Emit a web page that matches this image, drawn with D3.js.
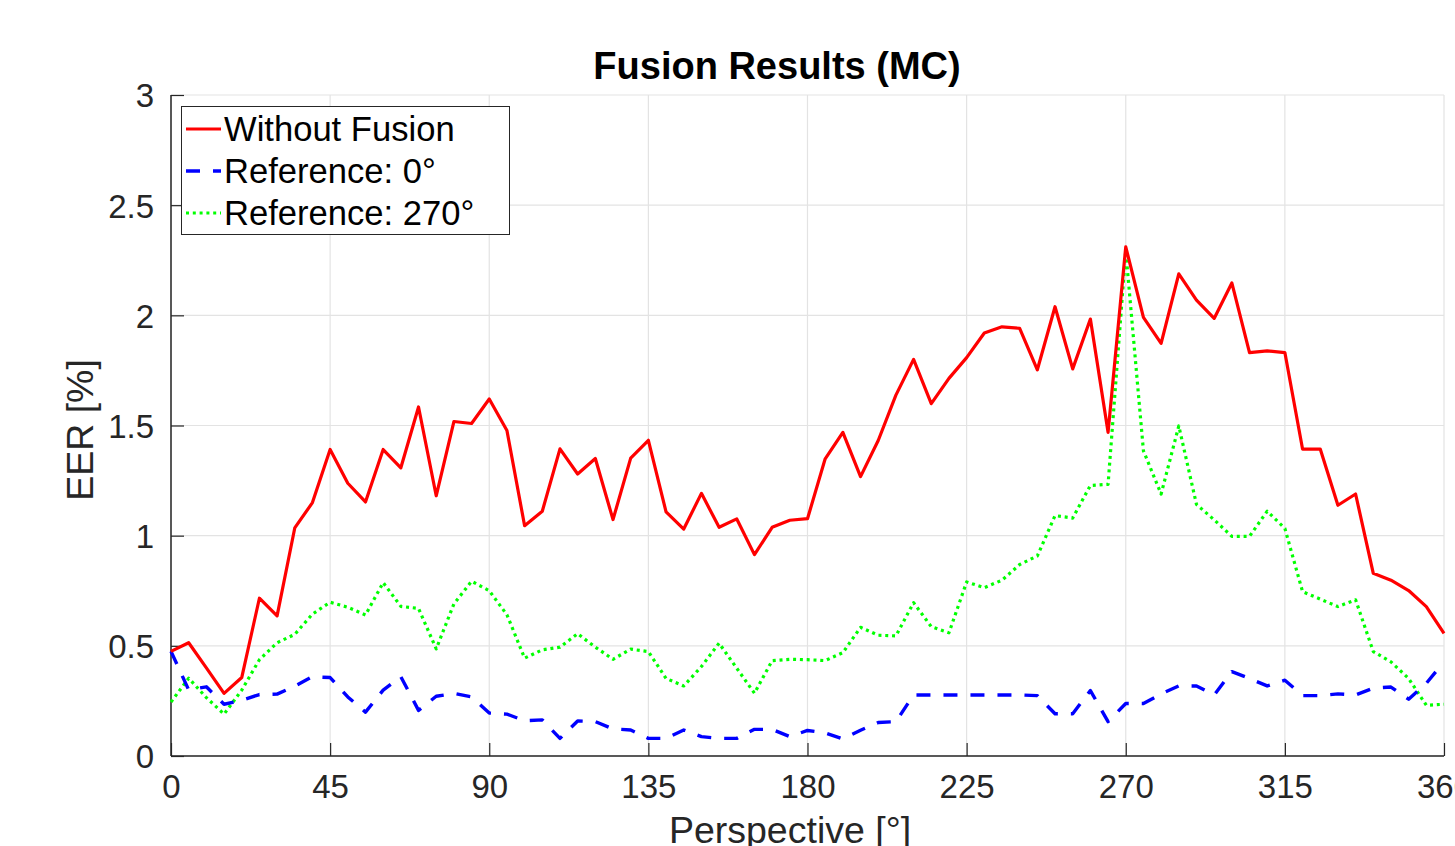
<!DOCTYPE html>
<html>
<head>
<meta charset="utf-8">
<script src="https://cdn.jsdelivr.net/npm/d3@7"></script>
<style>
  html, body { margin: 0; padding: 0; background: #fff; }
  svg { display: block; }
  text { font-family: "Liberation Sans", Arial, Helvetica, sans-serif; }
</style>
</head>
<body>
<svg id="chart" width="1455" height="846"></svg>
<script>
// ---- data ----
const angles = [0,5,10,15,20,25,30,35,40,45,50,55,60,65,70,75,80,85,90,95,100,105,110,115,120,125,130,135,140,145,150,155,160,165,170,175,180,185,190,195,200,205,210,215,220,225,230,235,240,245,250,255,260,265,270,275,280,285,290,295,300,305,310,315,320,325,330,335,340,345,350,355,360];

const withoutFusion = [0.475,0.514,0.400,0.284,0.356,0.716,0.636,1.035,1.150,1.391,1.238,1.153,1.391,1.308,1.584,1.181,1.518,1.509,1.620,
  1.477,1.045,1.111,1.394,1.280,1.350,1.073,1.352,1.433,1.108,1.030,1.192,1.038,1.076,0.914,1.038,1.070,1.077,
  1.349,1.469,1.268,1.432,1.638,1.800,1.599,1.714,1.808,1.920,1.948,1.941,1.753,2.039,1.757,1.983,1.469,2.311,
  1.991,1.873,2.188,2.069,1.986,2.147,1.831,1.839,1.831,1.393,1.393,1.138,1.189,0.829,0.798,0.751,0.678,0.556];

const reference0 = [0.475,0.300,0.314,0.235,0.253,0.279,0.281,0.317,0.360,0.356,0.268,0.199,0.299,0.360,0.207,0.271,0.284,0.268,0.195,
  0.190,0.160,0.164,0.080,0.159,0.156,0.123,0.118,0.080,0.080,0.118,0.088,0.080,0.080,0.121,0.121,0.088,0.116,
  0.105,0.078,0.117,0.152,0.156,0.277,0.277,0.277,0.277,0.277,0.277,0.277,0.274,0.192,0.192,0.297,0.156,0.238,
  0.238,0.282,0.318,0.318,0.277,0.383,0.352,0.318,0.344,0.274,0.274,0.282,0.277,0.308,0.313,0.258,0.330,0.427];

const reference270 = [0.245,0.353,0.265,0.190,0.299,0.437,0.514,0.552,0.644,0.698,0.675,0.640,0.787,0.679,0.670,0.486,0.690,0.793,0.750,
  0.641,0.444,0.482,0.494,0.555,0.494,0.439,0.485,0.474,0.352,0.318,0.406,0.512,0.398,0.285,0.433,0.439,0.437,
  0.433,0.469,0.584,0.548,0.545,0.696,0.587,0.559,0.790,0.764,0.798,0.869,0.908,1.091,1.080,1.228,1.233,2.293,
  1.385,1.189,1.498,1.142,1.072,0.997,0.997,1.111,1.033,0.746,0.712,0.678,0.709,0.474,0.427,0.352,0.230,0.235];

const xTicks = [0,45,90,135,180,225,270,315,360];
const yTicks = [0,0.5,1,1.5,2,2.5,3];
const seriesNames = ["Without Fusion", "Reference: 0°", "Reference: 270°"];

const titleText = "Fusion Results (MC)";
const xLabelText = "Perspective [°]";
const yLabelText = "EER [%]";

// ---- layout ----
const svg = d3.select("#chart");
const L = 171, R = 1444, T = 95, B = 756;
const x = d3.scaleLinear().domain([0, 360]).range([L, R]);
const y = d3.scaleLinear().domain([0, 3]).range([B, T]);

const axisColor = "#262626";
const fontTick = 33;

// grid
const grid = svg.append("g");
grid.selectAll("line.gx").data(xTicks).enter().append("line")
  .attr("x1", d => x(d)).attr("x2", d => x(d)).attr("y1", T).attr("y2", B)
  .attr("stroke", "#e3e3e3").attr("stroke-width", 1.2);
grid.selectAll("line.gy").data(yTicks).enter().append("line")
  .attr("x1", L).attr("x2", R).attr("y1", d => y(d)).attr("y2", d => y(d))
  .attr("stroke", "#e3e3e3").attr("stroke-width", 1.2);

// axes
const xAxis = d3.axisBottom(x).tickValues(xTicks).tickSize(-13).tickPadding(0).tickFormat(d3.format("d"));
const yAxis = d3.axisLeft(y).tickValues(yTicks).tickSize(-13).tickPadding(0).tickFormat(d => d3.format("")(d));

const gx = svg.append("g").attr("transform", `translate(0,${B})`).call(xAxis);
gx.select(".domain").attr("stroke", axisColor).attr("stroke-width", 1.5).attr("d", `M${L},0H${R}`);
gx.selectAll(".tick line").attr("stroke", axisColor).attr("stroke-width", 1.2);
gx.selectAll(".tick text").attr("fill", axisColor).style("font-size", fontTick + "px")
  .attr("y", 42).attr("dy", 0);

const gy = svg.append("g").attr("transform", `translate(${L},0)`).call(yAxis);
gy.select(".domain").attr("stroke", axisColor).attr("stroke-width", 1.5).attr("d", `M0,${B}V${T}`);
gy.selectAll(".tick line").attr("stroke", axisColor).attr("stroke-width", 1.2);
gy.selectAll(".tick text").attr("fill", axisColor).style("font-size", fontTick + "px")
  .attr("x", -17).attr("dy", "0.36em").attr("text-anchor", "end");

// lines
const line = d3.line().x((d, i) => x(angles[i])).y(d => y(d));
const styles = [
  { data: withoutFusion, color: "#ff0000", width: 3.2, dash: null },
  { data: reference0, color: "#0000ff", width: 3.4, dash: "14,13" },
  { data: reference270, color: "#00ff00", width: 3.2, dash: "3,3.8" }
];
// draw in reverse so red is on top
[styles[2], styles[1], styles[0]].forEach(s => {
  svg.append("path").datum(s.data).attr("d", line)
    .attr("fill", "none").attr("stroke", s.color).attr("stroke-width", s.width)
    .attr("stroke-dasharray", s.dash).attr("stroke-linejoin", "round");
});

// title & labels
svg.append("text").attr("x", 777).attr("y", 79).attr("text-anchor", "middle")
  .style("font-size", "38px").style("font-weight", "bold").attr("fill", "#000").text(titleText);
svg.append("text").attr("x", 790).attr("y", 843).attr("text-anchor", "middle")
  .style("font-size", "37.5px").attr("fill", axisColor).text(xLabelText);
svg.append("text").attr("transform", "translate(93,430) rotate(-90)").attr("text-anchor", "middle")
  .style("font-size", "37.5px").attr("fill", axisColor).text(yLabelText);

// legend
const lg = svg.append("g");
lg.append("rect").attr("x", 181.5).attr("y", 106.5).attr("width", 328).attr("height", 128)
  .attr("fill", "#fff").attr("stroke", "#262626").attr("stroke-width", 1);
const rowY = [129, 171, 213];
styles.forEach((s, i) => {
  lg.append("line").attr("x1", 186).attr("x2", 221).attr("y1", rowY[i]).attr("y2", rowY[i])
    .attr("stroke", s.color).attr("stroke-width", s.width).attr("stroke-dasharray", s.dash);
  lg.append("text").attr("x", 224).attr("y", rowY[i]).attr("dy", "0.36em")
    .style("font-size", "34.6px").attr("fill", "#000").text(seriesNames[i]);
});
</script>
</body>
</html>
